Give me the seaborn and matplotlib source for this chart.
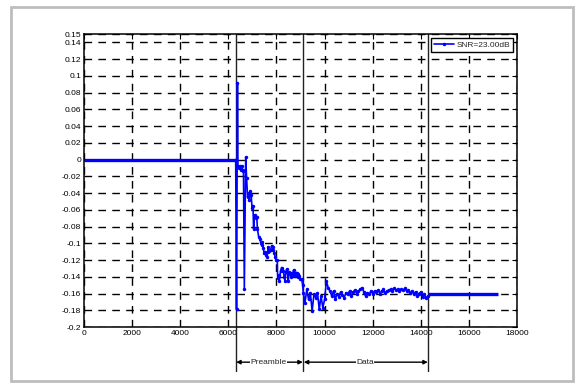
import matplotlib
matplotlib.use("Agg")
from matplotlib import pyplot as plt
from matplotlib.patches import Rectangle
import seaborn as sns
import numpy as np
import pandas as pd

sns.set_style("white")
plt.rcParams['font.family'] = ['Liberation Sans Narrow', 'Liberation Sans', 'DejaVu Sans']
plt.rcParams['lines.scale_dashes'] = False

# flat parts before and after the frame
lead_x = [0, 6306]
lead_y = [0.0, 0.0]
tail_x = [14312, 17224]
tail_y = [-0.161, -0.161]

# preamble part (sample index, value)
pre_x = [6306, 6340, 6380, 6400, 6430, 6470, 6510, 6550, 6590, 6630, 6665, 6722,
         6760, 6800, 6840, 6875, 6910, 6950, 6985, 7025, 7050, 7090, 7130, 7180,
         7210, 7260, 7316, 7350, 7385, 7420, 7455, 7490, 7524, 7560, 7594, 7630,
         7663, 7700, 7760, 7800, 7843, 7870, 7900, 7940, 7981, 8036, 8050, 8090,
         8120, 8170, 8216, 8250, 8286, 8320, 8355, 8390, 8424, 8460, 8493, 8530,
         8570, 8600, 8633, 8670, 8710, 8740, 8771, 8810, 8840, 8880, 8910, 8950,
         8990, 9048, 9090, 9117]
pre_y = [0.0, -0.179, 0.092, -0.008, -0.010, -0.008, -0.012, -0.008, -0.012, -0.014, -0.155, 0.003,
         -0.022, -0.045, -0.040, -0.048, -0.038, -0.042, -0.058, -0.055, -0.083, -0.066, -0.070, -0.068,
         -0.083, -0.092, -0.095, -0.100, -0.102, -0.099, -0.106, -0.112, -0.110, -0.114, -0.116, -0.110,
         -0.105, -0.109, -0.108, -0.103, -0.105, -0.108, -0.111, -0.116, -0.120, -0.120, -0.141, -0.138,
         -0.145, -0.133, -0.129, -0.132, -0.133, -0.140, -0.145, -0.134, -0.131, -0.135, -0.145, -0.134,
         -0.136, -0.140, -0.135, -0.138, -0.132, -0.136, -0.139, -0.135, -0.135, -0.140, -0.137, -0.139,
         -0.143, -0.143, -0.150, -0.159]

# data part values
data_y = [-0.171, -0.155, -0.167, -0.159, -0.181, -0.161, -0.165, -0.159, -0.179, -0.163,
          -0.177, -0.167, -0.145, -0.153, -0.157, -0.163, -0.157, -0.167,
          -0.160, -0.164, -0.158, -0.162, -0.165, -0.159, -0.161, -0.157, -0.163, -0.158,
          -0.156, -0.160, -0.157, -0.155,
          -0.153, -0.158, -0.163, -0.159, -0.161, -0.157, -0.160, -0.157,
          -0.158, -0.156, -0.160, -0.157, -0.155, -0.159, -0.157, -0.156, -0.155,
          -0.157, -0.154, -0.156, -0.155, -0.157, -0.155, -0.156, -0.154, -0.157,
          -0.156, -0.159, -0.157, -0.161, -0.158, -0.163, -0.160, -0.158, -0.164, -0.161,
          -0.165, -0.163]
data_x = np.linspace(9187, 14300, len(data_y))

bounds = [6306, 9117, 14312]
sections = ["Preamble", "Data"]

blue = "#0000ff"
xs = list(pre_x) + list(data_x)
ys = list(pre_y) + list(data_y)
df = pd.DataFrame({"n": xs, "v": ys})

fig = plt.figure(figsize=(5.8, 3.83), dpi=100)
fig.patches.append(Rectangle((0.019, 0.004), 0.969, 0.978, transform=fig.transFigure,
                             fill=False, edgecolor="#bdbdbd", lw=2))
ax = fig.add_axes([0.1448, 0.1462, 0.7466, 0.765])

ax.plot(lead_x, lead_y, color=blue, lw=2.4, solid_capstyle="butt")
ax.plot(tail_x, tail_y, color=blue, lw=2.4, solid_capstyle="butt")
sns.lineplot(data=df, x="n", y="v", sort=False, estimator=None, ax=ax, color=blue,
             lw=1.2, marker=".", markersize=5, markeredgewidth=0, label="SNR=23.00dB")

ax.set_xlim(0, 18000)
ax.set_ylim(-0.2, 0.15)
xt = np.arange(0, 18001, 2000)
ax.set_xticks(xt)
ax.set_xticklabels([str(v) for v in xt])
yt = [0.15, 0.14, 0.12, 0.1, 0.08, 0.06, 0.04, 0.02, 0, -0.02, -0.04, -0.06, -0.08,
      -0.1, -0.12, -0.14, -0.16, -0.18, -0.2]
ax.set_yticks(yt)
ax.set_yticklabels(["%g" % v for v in yt])
ax.tick_params(direction="in", length=3.5, width=0.8, labelsize=6, pad=2,
               top=True, right=True, colors="black")
ax.grid(True, color="black", lw=1.0, linestyle=(0, (5.5, 4.5)))
ax.set_xlabel("")
ax.set_ylabel("")
for s in ax.spines.values():
    s.set_color("black")
    s.set_linewidth(1.1)

# frame boundaries
for b in bounds:
    ax.plot([b, b], [0.15, -0.253], color="#222222", lw=1.0, clip_on=False, zorder=1.5)

ya = -0.242
for i, name in enumerate(sections):
    ax.annotate("", xy=(bounds[i] + 20, ya), xytext=(bounds[i + 1] - 20, ya),
                xycoords="data", annotation_clip=False,
                arrowprops=dict(arrowstyle="<|-|>", color="black", lw=1.0,
                                mutation_scale=6, shrinkA=0, shrinkB=0))
    ax.text((bounds[i] + bounds[i + 1]) / 2 - 40, ya, name, fontsize=6, ha="center",
            va="center", clip_on=False,
            bbox=dict(facecolor="white", edgecolor="none", pad=0.2))

leg = ax.legend(loc="upper right", fontsize=6, handlelength=2.4, frameon=True,
                fancybox=False, borderpad=0.35, borderaxespad=0.5, handletextpad=0.3)
leg.get_frame().set_edgecolor("black")
leg.get_frame().set_linewidth(1.0)
leg.get_frame().set_alpha(1)

plt.savefig("out.png", dpi=100)
